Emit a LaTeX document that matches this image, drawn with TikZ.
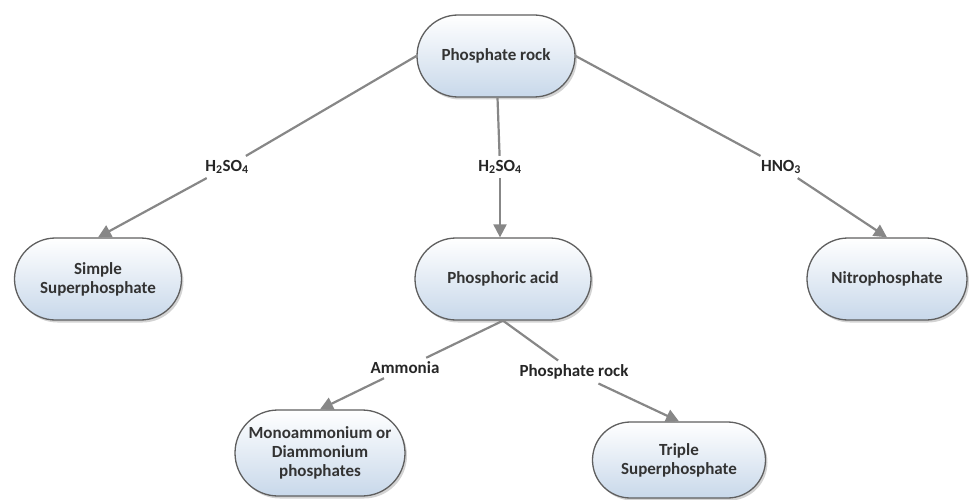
\documentclass[tikz,border=0pt]{standalone}
\usepackage{fontspec}
\setmainfont{Carlito}
\usepackage{tikz}
\usetikzlibrary{arrows.meta,shadows,shapes.misc}

\definecolor{boxblue}{RGB}{200,216,234}
\definecolor{boxline}{RGB}{95,95,95}
\definecolor{linkgray}{RGB}{135,135,135}

\tikzset{
  box/.style={rounded rectangle, draw=boxline, line width=1.3pt,
    top color=white, bottom color=boxblue, align=center,
    minimum height=82pt, font=\bfseries\fontsize{17}{19}\selectfont,
    text=black!80, inner sep=2pt, inner xsep=0pt,
    drop shadow={opacity=0.35, shadow xshift=2pt, shadow yshift=-2.5pt}},
  lbl/.style={font=\bfseries\fontsize{17}{19}\selectfont, text=black!85, inner sep=4pt},
  link/.style={draw=linkgray, line width=2.2pt},
  arr/.style={link, -{Triangle[length=13pt,width=13pt]}}
}

\begin{document}
\begin{tikzpicture}[x=1pt,y=-1pt]
		\useasboundingbox (0,0) rectangle (969,500);
		
		% boxes
		\node[box, minimum width=158pt] (rock) at (496,56) {Phosphate rock};
		\node[box, minimum width=167pt] (simple) at (98,279) {Simple\\Superphosphate};
		\node[box, minimum width=176pt] (acid) at (503,279) {Phosphoric acid};
		\node[box, minimum width=160pt] (nitro) at (887,279) {Nitrophosphate};
		\node[box, minimum width=170pt, minimum height=86pt] (mono) at (320,453) {Monoammonium or\\Diammonium\\phosphates};
		\node[box, minimum width=173pt, minimum height=76pt] (triple) at (679,460) {Triple\\Superphosphate};
		
		% labels
		\node[lbl] (sulfl) at (227,167) {H\textsubscript{2}SO\textsubscript{4}};
		\node[lbl] (sulfm) at (500,167) {H\textsubscript{2}SO\textsubscript{4}};
		\node[lbl] (nitric) at (781,167) {HNO\textsubscript{3}};
		\node[lbl] (ammonia) at (405,368) {Ammonia};
		\node[lbl] (rocklbl) at (574,372) {Phosphate rock};
		
		% links
		\draw[link] (rock.west) -- (sulfl);
		\draw[arr] (sulfl) -- (simple.north);
		\draw[link] (rock) -- (sulfm);
		\draw[arr] (sulfm) -- (acid.north -| sulfm);
		\draw[link] (rock.east) -- (nitric);
		\draw[arr] (nitric) -- (nitro.north);
		\draw[link] (acid.south) -- (ammonia);
		\draw[arr] (ammonia) -- (mono.north);
		\draw[link] (acid.south) -- (rocklbl);
		\draw[arr] (rocklbl) -- (triple.north);
		
	\end{tikzpicture}
\end{document}
